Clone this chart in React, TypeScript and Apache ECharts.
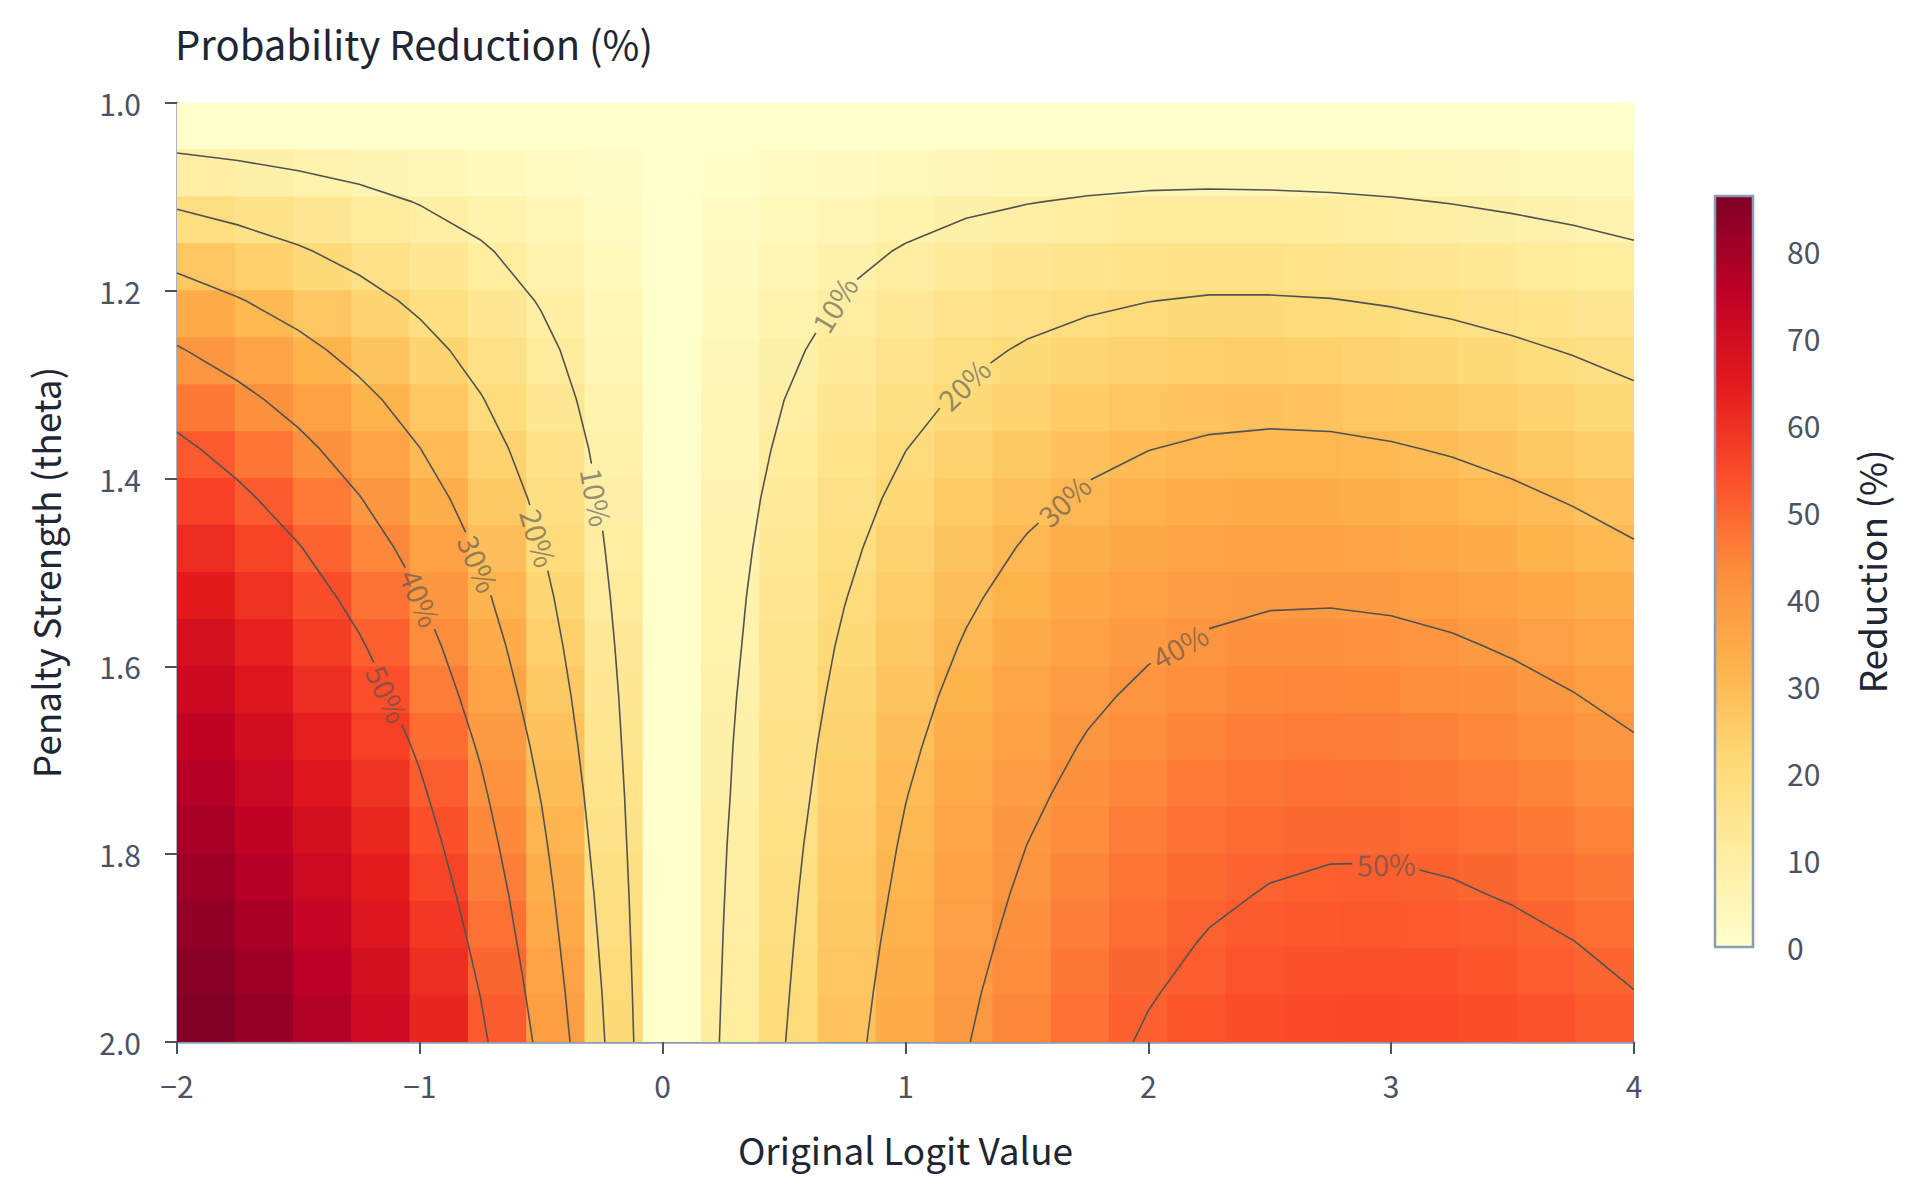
import React, { useEffect, useRef } from "react";
import * as echarts from "echarts";

// grid of the underlying data (contours are traced on these coordinates)
const logits = [-2, -1.75, -1.5, -1.25, -1, -0.75, -0.5, -0.25, 0, 0.25, 0.5, 0.75, 1, 1.25, 1.5, 1.75, 2, 2.25, 2.5, 2.75, 3, 3.25, 3.5, 3.75, 4];
const thetas = [1.0, 1.0526, 1.1053, 1.1579, 1.2105, 1.2632, 1.3158, 1.3684, 1.4211, 1.4737, 1.5263, 1.5789, 1.6316, 1.6842, 1.7368, 1.7895, 1.8421, 1.8947, 1.9474, 2.0];

// reduction (%) — one row per theta, one column per logit
const reduction: number[][] = [
    [0, 0, 0, 0, 0, 0, 0, 0, 0, 0, 0, 0, 0, 0, 0, 0, 0, 0, 0, 0, 0, 0, 0, 0, 0],
    [9.9, 8.7, 7.4, 6.2, 5.0, 3.7, 2.5, 1.2, 0, 1.1, 2.2, 3.1, 4.0, 4.7, 5.3, 5.7, 5.9, 6.0, 5.9, 5.7, 5.4, 5.0, 4.6, 4.1, 3.6],
    [18.8, 16.6, 14.4, 12.1, 9.7, 7.3, 4.9, 2.4, 0, 2.1, 4.1, 5.8, 7.4, 8.8, 9.8, 10.6, 11.2, 11.4, 11.3, 11.0, 10.5, 9.8, 9.0, 8.1, 7.2],
    [26.8, 23.9, 20.8, 17.5, 14.2, 10.8, 7.2, 3.6, 0, 3.0, 5.8, 8.3, 10.5, 12.4, 13.9, 15.0, 15.8, 16.2, 16.2, 15.8, 15.2, 14.3, 13.2, 12.1, 10.8],
    [34.1, 30.5, 26.7, 22.7, 18.5, 14.1, 9.5, 4.8, 0, 3.8, 7.3, 10.5, 13.2, 15.6, 17.5, 18.9, 19.9, 20.5, 20.5, 20.2, 19.5, 18.5, 17.3, 15.9, 14.4],
    [40.6, 36.5, 32.2, 27.5, 22.6, 17.3, 11.8, 6.0, 0, 4.6, 8.7, 12.4, 15.7, 18.4, 20.7, 22.4, 23.6, 24.3, 24.5, 24.2, 23.5, 22.5, 21.1, 19.6, 17.9],
    [46.5, 42.1, 37.3, 32.1, 26.5, 20.4, 14.0, 7.1, 0, 5.3, 9.98, 14.2, 17.9, 21.0, 23.5, 25.5, 26.9, 27.8, 28.1, 27.8, 27.2, 26.1, 24.7, 23.1, 21.3],
    [51.8, 47.1, 42.0, 36.3, 30.1, 23.4, 16.1, 8.3, 0, 5.9, 11.1, 15.8, 19.9, 23.3, 26.1, 28.3, 29.9, 30.9, 31.3, 31.2, 30.5, 29.5, 28.1, 26.4, 24.5],
    [56.6, 51.7, 46.3, 40.3, 33.6, 26.3, 18.2, 9.4, 0, 6.5, 12.2, 17.3, 21.7, 25.4, 28.5, 30.9, 32.6, 33.7, 34.2, 34.2, 33.6, 32.6, 31.2, 29.5, 27.6],
    [60.9, 56.0, 50.4, 44.1, 37.0, 29.0, 20.2, 10.5, 0, 7.0, 13.2, 18.6, 23.3, 27.3, 30.6, 33.1, 35.0, 36.3, 36.9, 37.0, 36.5, 35.5, 34.2, 32.5, 30.5],
    [64.8, 59.8, 54.1, 47.6, 40.2, 31.7, 22.2, 11.6, 0, 7.5, 14.1, 19.8, 24.8, 29.0, 32.5, 35.2, 37.3, 38.6, 39.4, 39.5, 39.1, 38.2, 36.9, 35.2, 33.3],
    [68.3, 63.3, 57.5, 50.9, 43.2, 34.3, 24.1, 12.7, 0, 7.9, 14.9, 21.0, 26.2, 30.6, 34.3, 37.1, 39.3, 40.8, 41.6, 41.8, 41.5, 40.7, 39.4, 37.8, 35.9],
    [71.5, 66.5, 60.7, 54.0, 46.0, 36.7, 26.0, 13.8, 0, 8.4, 15.7, 22.0, 27.5, 32.1, 35.9, 38.9, 41.2, 42.7, 43.7, 44.0, 43.7, 43.0, 41.8, 40.2, 38.3],
    [74.3, 69.5, 63.7, 56.9, 48.8, 39.1, 27.9, 14.8, 0, 8.8, 16.4, 23.0, 28.7, 33.4, 37.4, 40.5, 42.9, 44.5, 45.5, 45.9, 45.8, 45.1, 44.0, 42.4, 40.6],
    [76.9, 72.1, 66.4, 59.6, 51.3, 41.4, 29.7, 15.9, 0, 9.1, 17.0, 23.9, 29.8, 34.7, 38.7, 42.0, 44.4, 46.2, 47.3, 47.7, 47.6, 47.0, 46.0, 44.5, 42.8],
    [79.2, 74.6, 69.0, 62.1, 53.8, 43.6, 31.5, 16.9, 0, 9.5, 17.7, 24.8, 30.8, 35.8, 40.0, 43.3, 45.9, 47.7, 48.9, 49.4, 49.4, 48.9, 47.9, 46.5, 44.8],
    [81.3, 76.8, 71.3, 64.5, 56.1, 45.8, 33.2, 18.0, 0, 9.8, 18.3, 25.5, 31.7, 36.9, 41.2, 44.6, 47.2, 49.1, 50.3, 50.9, 51.0, 50.5, 49.6, 48.3, 46.7],
    [83.1, 78.9, 73.5, 66.8, 58.4, 47.8, 34.8, 19.0, 0, 10.1, 18.8, 26.3, 32.6, 37.9, 42.3, 45.8, 48.5, 50.4, 51.7, 52.4, 52.5, 52.1, 51.3, 50.1, 48.5],
    [84.8, 80.7, 75.5, 68.9, 60.5, 49.8, 36.5, 20.0, 0, 10.4, 19.3, 27.0, 33.4, 38.9, 43.3, 46.9, 49.6, 51.6, 53.0, 53.7, 53.9, 53.6, 52.8, 51.6, 50.1],
    [86.3, 82.4, 77.3, 70.8, 62.4, 51.7, 38.1, 21.0, 0, 10.7, 19.8, 27.6, 34.2, 39.7, 44.2, 47.9, 50.7, 52.8, 54.2, 55.0, 55.2, 54.9, 54.2, 53.2, 51.7],
];

const contourLevels = [10, 20, 30, 40, 50];

// approximate spots of the contour labels (snapped onto the lines below)
const labelLevels = [10, 20, 30, 40, 50, 10, 20, 30, 40, 50];
const labelX = [-0.275, -0.508, -0.763, -0.994, -1.14, 0.698, 1.235, 1.655, 2.127, 2.98];
const labelTheta = [1.42, 1.463, 1.491, 1.527, 1.63, 1.213, 1.298, 1.424, 1.577, 1.814];

const colorbarTicks = [0, 10, 20, 30, 40, 50, 60, 70, 80];

const YL_OR_RD = ["#ffffcc", "#ffeda0", "#fed976", "#feb24c", "#fd8d3c", "#fc4e2a", "#e31a1c", "#bd0026", "#800026"];
const FONT = '"Noto Sans CJK KR", "Noto Sans", sans-serif';
const TICK_COLOR = "#4a5263";
const TEXT_DARK = "#1e2533";
const AXIS_LINE = "#8c9bb1";

const X_MIN = -2, X_MAX = 4, Y_MIN = 1, Y_MAX = 2;

function traceContour(level: number): number[][][] {
    const pts = new Map<string, number[]>();
    const segs: [string, string][] = [];
    const val = (i: number, j: number) => reduction[j][i];
    const hEdge = (i: number, j: number) => {
        const key = `h${i}_${j}`;
        if (!pts.has(key)) {
            const t = (level - val(i, j)) / (val(i + 1, j) - val(i, j));
            pts.set(key, [logits[i] + t * (logits[i + 1] - logits[i]), thetas[j]]);
        }
        return key;
    };
    const vEdge = (i: number, j: number) => {
        const key = `v${i}_${j}`;
        if (!pts.has(key)) {
            const t = (level - val(i, j)) / (val(i, j + 1) - val(i, j));
            pts.set(key, [logits[i], thetas[j] + t * (thetas[j + 1] - thetas[j])]);
        }
        return key;
    };
    for (let j = 0; j < thetas.length - 1; j++) {
        for (let i = 0; i < logits.length - 1; i++) {
            const a = val(i, j) >= level;
            const b = val(i + 1, j) >= level;
            const c = val(i + 1, j + 1) >= level;
            const d = val(i, j + 1) >= level;
            const e: string[] = [];
            if (a !== b) e.push(hEdge(i, j));
            if (b !== c) e.push(vEdge(i + 1, j));
            if (c !== d) e.push(hEdge(i, j + 1));
            if (d !== a) e.push(vEdge(i, j));
            if (e.length === 2) segs.push([e[0], e[1]]);
            else if (e.length === 4) {
                const mid = (val(i, j) + val(i + 1, j) + val(i + 1, j + 1) + val(i, j + 1)) / 4 >= level;
                if (mid === a) {
                    segs.push([e[0], e[1]]);
                    segs.push([e[2], e[3]]);
                } else {
                    segs.push([e[0], e[3]]);
                    segs.push([e[1], e[2]]);
                }
            }
        }
    }
    const adj = new Map<string, number[]>();
    segs.forEach((s, k) => {
        for (const key of s) {
            if (!adj.has(key)) adj.set(key, []);
            adj.get(key)!.push(k);
        }
    });
    const used = new Array(segs.length).fill(false);
    const walk = (start: string) => {
        const keys = [start];
        let cur = start;
        for (;;) {
            const next = (adj.get(cur) || []).find((k) => !used[k]);
            if (next === undefined) break;
            used[next] = true;
            const s = segs[next];
            cur = s[0] === cur ? s[1] : s[0];
            keys.push(cur);
        }
        return keys.map((k) => pts.get(k)!);
    };
    const lines: number[][][] = [];
    adj.forEach((list, key) => {
        if (list.length === 1 && !used[list[0]]) lines.push(walk(key));
    });
    segs.forEach((s, k) => {
        if (!used[k]) lines.push(walk(s[0]));
    });
    return lines;
}

// cut a pixel polyline around a circle (gap for a contour label)
function clipCircle(poly: number[][], cx: number, cy: number, r: number): number[][][] {
    const out: number[][][] = [];
    let cur: number[][] = [];
    for (let k = 0; k < poly.length - 1; k++) {
        const A = poly[k], B = poly[k + 1];
        const dx = B[0] - A[0], dy = B[1] - A[1];
        const fx = A[0] - cx, fy = A[1] - cy;
        const a = dx * dx + dy * dy, b = 2 * (fx * dx + fy * dy), c = fx * fx + fy * fy - r * r;
        const disc = b * b - 4 * a * c;
        let lo = 1, hi = 0;
        if (a > 0 && disc > 0) {
            const s = Math.sqrt(disc);
            lo = Math.max(0, (-b - s) / (2 * a));
            hi = Math.min(1, (-b + s) / (2 * a));
        }
        const at = (t: number) => [A[0] + dx * t, A[1] + dy * t];
        if (hi <= lo) {
            if (!cur.length) cur.push(A);
            cur.push(B);
        } else {
            if (lo > 0) {
                if (!cur.length) cur.push(A);
                cur.push(at(lo));
            }
            if (cur.length > 1) out.push(cur);
            cur = [];
            if (hi < 1) cur.push(at(hi), B);
        }
    }
    if (cur.length > 1) out.push(cur);
    return out;
}

const App: React.FC = () => {
    const ref = useRef<HTMLDivElement | null>(null);

    useEffect(() => {
        if (!ref.current) return;
        const chart = echarts.init(ref.current, null, { renderer: "svg" });

        const nCols = logits.length;
        const nRows = thetas.length;
        const cellW = (X_MAX - X_MIN) / nCols;
        const cellH = (Y_MAX - Y_MIN) / nRows;
        const cells: number[][] = [];
        reduction.forEach((row, j) =>
            row.forEach((v, i) => cells.push([X_MIN + (i + 0.5) * cellW, Y_MIN + (j + 0.5) * cellH, v]))
        );
        const zMax = Math.max(...reduction.map((r) => Math.max(...r)));

        const axisName = { fontFamily: FONT, fontSize: 37, color: TEXT_DARK };
        const tickLabel = { fontFamily: FONT, fontSize: 30, color: TICK_COLOR };

        const baseSeries: any[] = [
            {
                type: "custom",
                xAxisIndex: 0,
                yAxisIndex: 0,
                clip: true,
                silent: true,
                data: cells,
                renderItem: (_p: any, api: any) => {
                    const cx = api.value(0), cy = api.value(1);
                    const p0 = api.coord([cx - cellW / 2, cy - cellH / 2]);
                    const p1 = api.coord([cx + cellW / 2, cy + cellH / 2]);
                    return {
                        type: "rect",
                        shape: {
                            x: Math.min(p0[0], p1[0]) - 0.5,
                            y: Math.min(p0[1], p1[1]) - 0.5,
                            width: Math.abs(p1[0] - p0[0]) + 1,
                            height: Math.abs(p1[1] - p0[1]) + 1,
                        },
                        style: { fill: api.visual("color") },
                    };
                },
                z: 1,
            },
            {
                type: "custom",
                xAxisIndex: 1,
                yAxisIndex: 1,
                silent: true,
                data: [[0.5, zMax / 2]],
                renderItem: (p: any) => {
                    const cs = p.coordSys;
                    return {
                        type: "rect",
                        shape: { x: cs.x, y: cs.y, width: cs.width, height: cs.height },
                        style: {
                            fill: new echarts.graphic.LinearGradient(
                                0, 1, 0, 0,
                                YL_OR_RD.map((c, k) => ({ offset: k / (YL_OR_RD.length - 1), color: c }))
                            ),
                            stroke: "#8d9bb0",
                            lineWidth: 2.5,
                        },
                    };
                },
            },
        ];

        const option: any = {
            animation: false,
            backgroundColor: "#ffffff",
            title: {
                text: "Probability Reduction (%)",
                left: 170,
                top: 18,
                textStyle: { fontFamily: FONT, fontSize: 40, fontWeight: "normal", color: TEXT_DARK },
            },
            grid: [
                { left: 177, right: 286, top: 103, bottom: 155 },
                { left: 1715, width: 38, top: 196, height: 751 },
            ],
            visualMap: {
                show: false,
                type: "continuous",
                min: 0,
                max: zMax,
                dimension: 2,
                seriesIndex: 0,
                inRange: { color: YL_OR_RD },
            },
            xAxis: [
                {
                    type: "value",
                    gridIndex: 0,
                    min: X_MIN,
                    max: X_MAX,
                    interval: 1,
                    name: "Original Logit Value",
                    nameLocation: "middle",
                    nameGap: 88,
                    nameTextStyle: axisName,
                    axisLine: { show: true, onZero: false, lineStyle: { color: AXIS_LINE, width: 2.5 } },
                    axisTick: { show: true, length: 12, lineStyle: { color: TICK_COLOR, width: 2 } },
                    axisLabel: {
                        ...tickLabel,
                        margin: 28,
                        formatter: (v: number) => (v < 0 ? "\u2212" + Math.abs(v) : String(v)),
                    },
                    splitLine: { show: false },
                },
                { type: "value", gridIndex: 1, min: 0, max: 1, show: false },
            ],
            yAxis: [
                {
                    type: "value",
                    gridIndex: 0,
                    min: Y_MIN,
                    max: Y_MAX,
                    interval: 0.2,
                    inverse: true,
                    name: "Penalty Strength (theta)",
                    nameLocation: "middle",
                    nameGap: 114,
                    nameRotate: 90,
                    nameTextStyle: axisName,
                    axisLine: { show: true, onZero: false, lineStyle: { color: AXIS_LINE, width: 2.5 } },
                    axisTick: { show: true, length: 12, lineStyle: { color: TICK_COLOR, width: 2 } },
                    axisLabel: { ...tickLabel, margin: 36, formatter: (v: number) => v.toFixed(1) },
                    splitLine: { show: false },
                },
                {
                    type: "value",
                    gridIndex: 1,
                    min: 0,
                    max: zMax,
                    position: "right",
                    name: "Reduction (%)",
                    nameLocation: "middle",
                    nameGap: 99,
                    nameRotate: 90,
                    nameTextStyle: axisName,
                    axisLine: { show: false },
                    axisTick: { show: true, length: 12, customValues: colorbarTicks, lineStyle: { color: TICK_COLOR, width: 2 } },
                    axisLabel: { ...tickLabel, margin: 34, customValues: colorbarTicks },
                    splitLine: { show: false },
                },
            ],
            series: baseSeries,
        };

        chart.setOption(option);

        const toPx = (p: number[]) => chart.convertToPixel({ gridIndex: 0 } as any, p) as number[];
        const fromPx = (p: number[]) => chart.convertFromPixel({ gridIndex: 0 } as any, p) as number[];
        const GAP = 34;

        const lineSeries: any[] = [];
        const labelData: any[] = [];
        contourLevels.forEach((level) => {
            let polys = traceContour(level).map((line) => line.map(toPx));
            labelLevels.forEach((lv, k) => {
                if (lv !== level) return;
                const c = toPx([labelX[k], labelTheta[k]]);
                let best = Infinity, bp = c, ang = 0;
                polys.forEach((poly) => {
                    for (let s = 0; s < poly.length - 1; s++) {
                        const A = poly[s], B = poly[s + 1];
                        const dx = B[0] - A[0], dy = B[1] - A[1];
                        const L2 = dx * dx + dy * dy;
                        if (!L2) continue;
                        let t = ((c[0] - A[0]) * dx + (c[1] - A[1]) * dy) / L2;
                        t = Math.max(0, Math.min(1, t));
                        const q = [A[0] + dx * t, A[1] + dy * t];
                        const d = Math.hypot(q[0] - c[0], q[1] - c[1]);
                        if (d < best) {
                            best = d;
                            bp = q;
                            ang = (-Math.atan2(dy, dx) * 180) / Math.PI;
                        }
                    }
                });
                if (ang > 90) ang -= 180;
                if (ang < -90) ang += 180;
                polys = polys.flatMap((poly) => clipCircle(poly, bp[0], bp[1], GAP));
                labelData.push({
                    value: fromPx(bp),
                    label: { rotate: ang, formatter: `${level}%` },
                });
            });
            polys.forEach((poly) =>
                lineSeries.push({
                    type: "line",
                    xAxisIndex: 0,
                    yAxisIndex: 0,
                    data: poly.map(fromPx),
                    symbol: "none",
                    silent: true,
                    lineStyle: { color: "#525252", width: 1.6 },
                    z: 3,
                })
            );
        });

        chart.setOption({
            series: [
                ...baseSeries,
                ...lineSeries,
                {
                    type: "scatter",
                    xAxisIndex: 0,
                    yAxisIndex: 0,
                    symbolSize: 0,
                    silent: true,
                    data: labelData,
                    label: {
                        show: true,
                        position: "inside",
                        fontFamily: FONT,
                        fontSize: 29,
                        color: "rgba(80,80,80,0.75)",
                    },
                    z: 4,
                },
            ],
        });

        return () => chart.dispose();
    }, []);

    return <div ref={ref} style={{ position: "fixed", left: 0, top: 0, width: 1920, height: 1197 }} />;
};

export default App;
